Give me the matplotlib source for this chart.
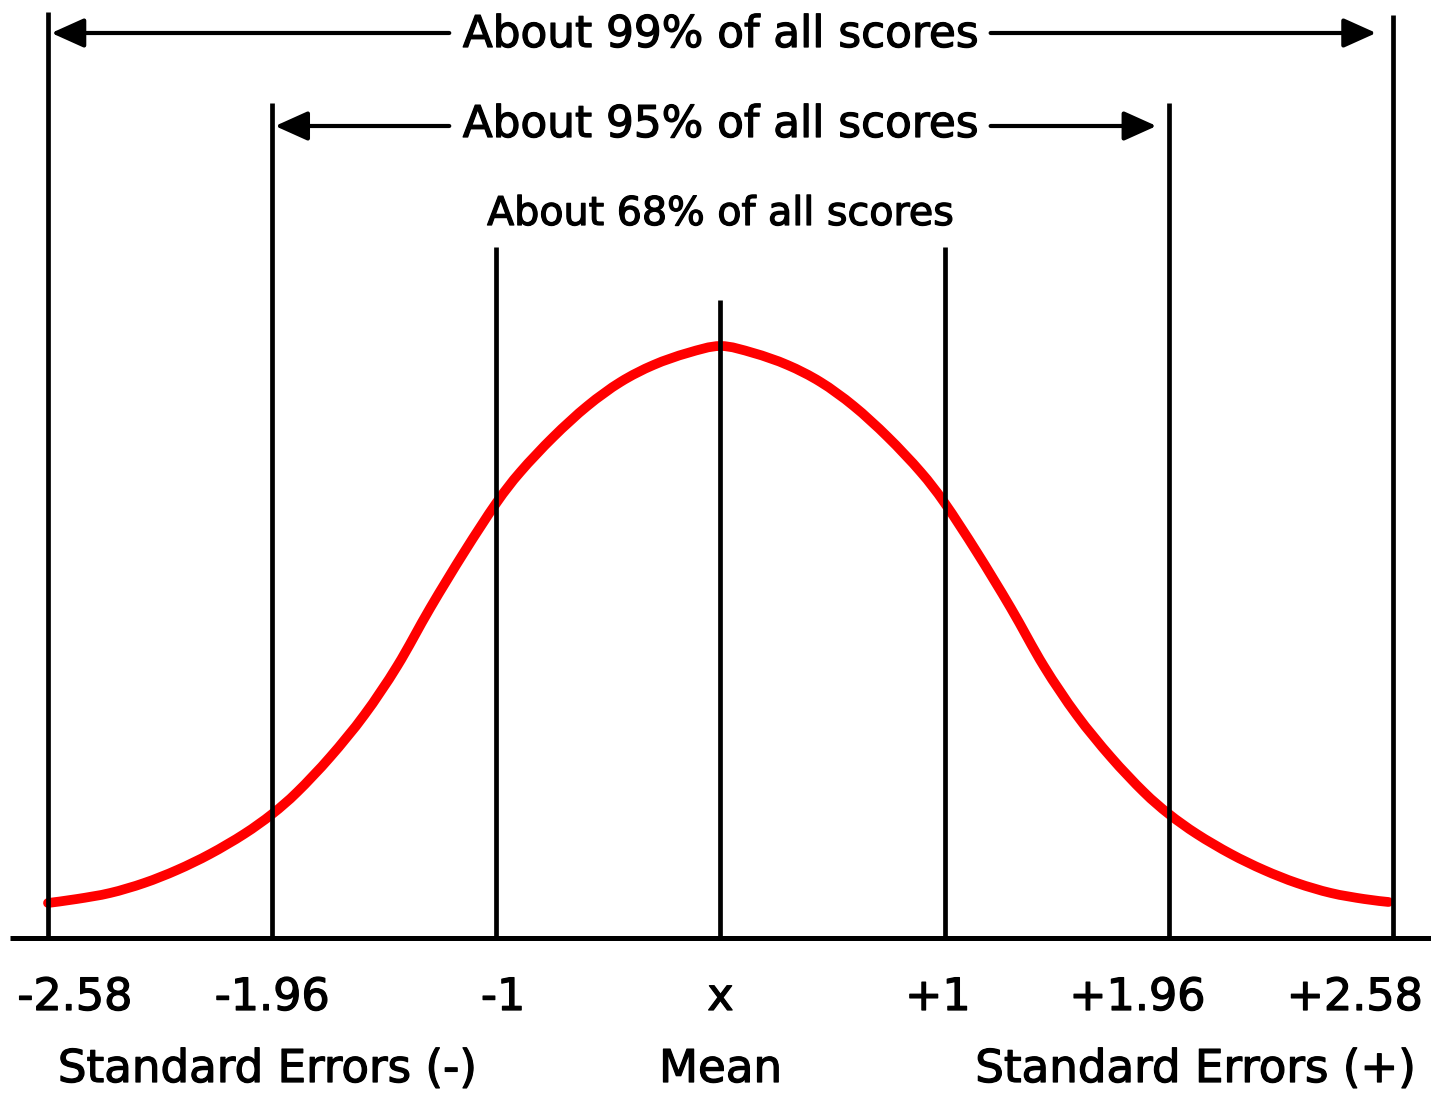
import matplotlib
matplotlib.use("Agg")
import matplotlib.pyplot as plt
import matplotlib.patheffects as pe
from matplotlib.path import Path
from matplotlib.patches import PathPatch

# ==========================================
# DATA
# ==========================================

# vertical marker lines sit at evenly spaced slots, labelled with the z values
line_slots = [-3, -2, -1, 0, 1, 2, 3]
tick_labels = ["-2.58", "-1.96", "-1", "x", "+1", "+1.96", "+2.58"]

group_labels = ["Standard Errors (-)", "Mean", "Standard Errors (+)"]
band_labels = [
    "About 99% of all scores",
    "About 95% of all scores",
    "About 68% of all scores",
]

# bell curve, heights (pixels above the baseline)
curve_x = [-3.0, -2.871, -2.723, -2.571, -2.424, -2.277, -2.125, -2.0,
           -1.888, -1.741, -1.589, -1.442, -1.295, -1.143, -1.0,
           -0.893, -0.746, -0.594, -0.446, -0.299, -0.147, 0.0,
           0.147, 0.299, 0.446, 0.594, 0.746, 0.893, 1.0,
           1.143, 1.295, 1.442, 1.589, 1.741, 1.888, 2.0,
           2.125, 2.277, 2.424, 2.571, 2.723, 2.871, 2.98]
curve_h = [35, 39, 45, 55, 68, 84, 104, 124,
           146, 181, 223, 272, 330, 386, 435,
           466, 501, 532, 556, 573, 585, 592,
           585, 573, 556, 532, 501, 466, 435,
           386, 330, 272, 223, 181, 146, 124,
           104, 84, 68, 55, 45, 39, 36]

# ==========================================
# FIGURE
# ==========================================

fig = plt.figure(figsize=(14.31, 10.94), dpi=100)
ax = fig.add_axes([0, 0, 1, 1])
ax.set_xlim(-3.2141, 3.1695)
ax.set_ylim(-156, 938)
ax.axis("off")

plt.rcParams["font.family"] = ["DejaVu Sans"]
heavy = [pe.withStroke(linewidth=0.9, foreground="black")]

# ==========================================
# CURVE (smooth path through the read points)
# ==========================================

pts = list(zip(curve_x, curve_h))
verts = [pts[0]]
codes = [Path.MOVETO]
for i in range(len(pts) - 1):
    p0 = pts[max(i - 1, 0)]
    p1 = pts[i]
    p2 = pts[i + 1]
    p3 = pts[min(i + 2, len(pts) - 1)]
    c1 = (p1[0] + (p2[0] - p0[0]) / 6, p1[1] + (p2[1] - p0[1]) / 6)
    c2 = (p2[0] - (p3[0] - p1[0]) / 6, p2[1] - (p3[1] - p1[1]) / 6)
    verts += [c1, c2, p2]
    codes += [Path.CURVE4] * 3

ax.add_patch(
    PathPatch(
        Path(verts, codes),
        facecolor="none",
        edgecolor="#ff0000",
        linewidth=7,
        capstyle="round",
        joinstyle="round",
        zorder=2
    )
)

# ==========================================
# LINES
# ==========================================

line_tops = [926, 835, 691, 638, 691, 835, 923]

for slot, top in zip(line_slots, line_tops):
    ax.plot([slot, slot], [0, top], color="black", linewidth=3.4,
            solid_capstyle="butt", zorder=3)

# baseline
ax.plot([-3.17, 3.1695], [0, 0], color="black", linewidth=3.6,
        solid_capstyle="butt", zorder=3)

# ==========================================
# ARROWS + BAND TEXT
# ==========================================

arrow_style = dict(
    arrowstyle="-|>,head_length=1.0,head_width=0.45",
    color="black",
    linewidth=3,
    mutation_scale=20,
    shrinkA=0,
    shrinkB=0
)

# 99% band
ax.annotate("", xy=(-2.985, 905), xytext=(-1.21, 905), arrowprops=arrow_style)
ax.annotate("", xy=(2.925, 905), xytext=(1.205, 905), arrowprops=arrow_style)
# 95% band
ax.annotate("", xy=(-1.987, 812), xytext=(-1.21, 812), arrowprops=arrow_style)
ax.annotate("", xy=(1.945, 812), xytext=(1.205, 812), arrowprops=arrow_style)

ax.text(0, 891, band_labels[0], ha="center", va="baseline", fontsize=31.5,
        path_effects=heavy)
ax.text(0, 801, band_labels[1], ha="center", va="baseline", fontsize=31.5,
        path_effects=heavy)
ax.text(0, 713, band_labels[2], ha="center", va="baseline", fontsize=28.5,
        path_effects=heavy)

# ==========================================
# AXIS LABELS
# ==========================================

label_x = [-2.88, -2.0, -0.97, 0.0, 0.97, 1.86, 2.83]
for lx, lab in zip(label_x, tick_labels):
    ax.text(lx, -72, lab, ha="center", va="baseline", fontsize=32,
            path_effects=heavy)

group_x = [-2.02, 0.0, 2.12]
for gx, lab in zip(group_x, group_labels):
    ax.text(gx, -144, lab, ha="center", va="baseline", fontsize=32.5,
            path_effects=heavy)

plt.savefig("out.png", dpi=100)
plt.close()
